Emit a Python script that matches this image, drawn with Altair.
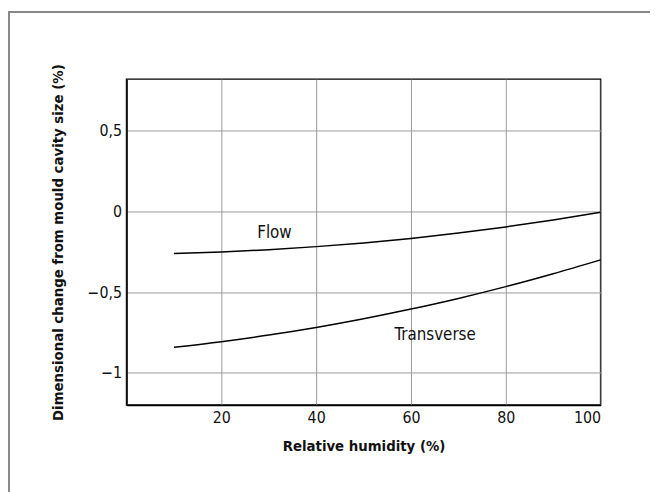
import altair as alt
import pandas as pd

# Data
hum_x = [10, 20, 30, 40, 50, 60, 70, 80, 90, 100]
flow_y = [-0.26, -0.251, -0.237, -0.218, -0.195, -0.167, -0.134, -0.096, -0.053, -0.005]
trans_y = [-0.842, -0.807, -0.766, -0.719, -0.665, -0.605, -0.539, -0.466, -0.386, -0.30]

label_text = ["Flow", "Transverse"]
label_x = [31.2, 65.1]
label_y = [-0.132, -0.765]

x_ticks = [0, 20, 40, 60, 80, 100]
y_ticks = [-1, -0.5, 0, 0.5]

FONT = "'DejaVu Sans Condensed', 'Roboto Condensed', 'Arial Narrow', Roboto, sans-serif"

df = pd.DataFrame(
    {"x": hum_x + hum_x,
     "y": flow_y + trans_y,
     "series": ["Flow"] * len(hum_x) + ["Transverse"] * len(hum_x)}
)
lab = pd.DataFrame({"t": label_text, "x": label_x, "y": label_y})

xs = alt.Scale(domain=[0, 100], nice=False, zero=False)
ys = alt.Scale(domain=[-1.2, 0.82], nice=False, zero=False)

lines = alt.Chart(df).mark_line(color="black", strokeWidth=1.5, interpolate="monotone").encode(
    x=alt.X("x:Q", scale=xs,
            axis=alt.Axis(values=x_ticks, title="Relative humidity (%)",
                          labelExpr="datum.value == 0 ? '' : datum.label",
                          ticks=False, labelPadding=5, titlePadding=13)),
    y=alt.Y("y:Q", scale=ys,
            axis=alt.Axis(values=y_ticks, title="Dimensional change from mould cavity size (%)",
                          labelExpr="replace(format(datum.value, ''), '.', ',')",
                          ticks=False, labelPadding=5, titlePadding=22)),
    detail="series:N",
)

texts = alt.Chart(lab).mark_text(font=FONT, fontSize=17, color="#111").encode(
    x=alt.X("x:Q", scale=xs), y=alt.Y("y:Q", scale=ys), text="t:N"
)

frame_data = alt.Data(values=[{"a": 1}])
frame_top = alt.Chart(frame_data).mark_rule(color="#888", strokeWidth=2).encode(
    x=alt.value(-120), x2=alt.value(560), y=alt.value(-68)
)
frame_left = alt.Chart(frame_data).mark_rule(color="#888", strokeWidth=2).encode(
    x=alt.value(-119), y=alt.value(-68), y2=alt.value(420)
)

chart = alt.layer(frame_top, frame_left, lines, texts).properties(
    width=480, height=330,
    autosize=alt.AutoSizeParams(type="none"),
    padding={"left": 120, "top": 69, "right": 50, "bottom": 85},
).configure_view(stroke="black", strokeWidth=1.5).configure_axis(
    grid=True, gridColor="#999", gridWidth=1, domainColor="black", domainWidth=1.5,
    labelFont=FONT, labelFontSize=16, labelColor="#111",
    titleFont=FONT, titleFontSize=15, titleFontWeight="bold", titleColor="#111",
)

chart.save("out.html", embed_options={"renderer": "svg", "actions": False})
